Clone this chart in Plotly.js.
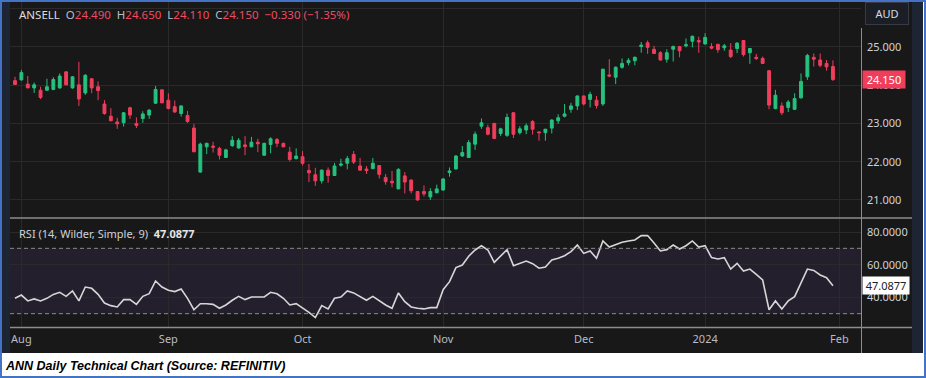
<!DOCTYPE html>
<html><head><meta charset="utf-8">
<script src="https://cdn.plot.ly/plotly-3.0.1.min.js"></script>
<style>html,body{margin:0;padding:0;background:#fff;}#chart{width:926px;height:378px;}</style>
</head><body><div id="chart"></div>
<script>
const dates = ['2023-07-31',
'2023-08-01','2023-08-02','2023-08-03','2023-08-04','2023-08-07','2023-08-08','2023-08-09','2023-08-10','2023-08-11','2023-08-14','2023-08-15','2023-08-16','2023-08-17','2023-08-18','2023-08-21','2023-08-22','2023-08-23','2023-08-24','2023-08-25','2023-08-28','2023-08-29','2023-08-30','2023-08-31',
'2023-09-01','2023-09-04','2023-09-05','2023-09-06','2023-09-07','2023-09-08','2023-09-11','2023-09-12','2023-09-13','2023-09-14','2023-09-15','2023-09-18','2023-09-19','2023-09-20','2023-09-21','2023-09-22','2023-09-25','2023-09-26','2023-09-27','2023-09-28','2023-09-29',
'2023-10-02','2023-10-03','2023-10-04','2023-10-05','2023-10-06','2023-10-09','2023-10-10','2023-10-11','2023-10-12','2023-10-13','2023-10-16','2023-10-17','2023-10-18','2023-10-19','2023-10-20','2023-10-23','2023-10-24','2023-10-25','2023-10-26','2023-10-27','2023-10-30','2023-10-31',
'2023-11-01','2023-11-02','2023-11-03','2023-11-06','2023-11-07','2023-11-08','2023-11-09','2023-11-10','2023-11-13','2023-11-14','2023-11-15','2023-11-16','2023-11-17','2023-11-20','2023-11-21','2023-11-22','2023-11-23','2023-11-24','2023-11-27','2023-11-28','2023-11-29','2023-11-30',
'2023-12-01','2023-12-04','2023-12-05','2023-12-06','2023-12-07','2023-12-08','2023-12-11','2023-12-12','2023-12-13','2023-12-14','2023-12-15','2023-12-18','2023-12-19','2023-12-20','2023-12-21','2023-12-22','2023-12-27','2023-12-28','2023-12-29',
'2024-01-02','2024-01-03','2024-01-04','2024-01-05','2024-01-08','2024-01-09','2024-01-10','2024-01-11','2024-01-12','2024-01-15','2024-01-16','2024-01-17','2024-01-18','2024-01-19','2024-01-22','2024-01-23','2024-01-24','2024-01-25','2024-01-29','2024-01-30','2024-01-31'];

const open = [24.12,24.14,24.03,23.93,23.87,23.87,23.89,23.93,24.35,23.93,24.01,23.80,24.17,23.96,23.51,23.19,23.04,23.02,23.41,23.00,23.13,23.22,23.53,23.88,
23.61,23.44,23.26,23.21,22.88,21.73,22.39,22.41,22.35,22.11,22.42,22.36,22.44,22.39,22.51,22.17,22.45,22.58,22.48,22.25,22.08,
22.13,21.77,21.66,21.50,21.78,21.64,21.91,21.96,22.19,21.89,21.81,21.82,21.90,21.59,21.49,21.29,21.63,21.52,21.22,21.22,21.08,21.19,
21.26,21.72,21.81,22.15,22.11,22.46,22.93,22.89,23.00,22.74,22.69,23.28,22.76,22.83,23.05,22.78,22.76,22.88,23.07,23.19,23.37,23.46,
23.72,23.63,23.61,23.51,24.27,24.21,24.47,24.59,24.64,25.01,25.11,24.94,24.85,24.68,24.94,25.01,25.03,25.15,25.17,
25.08,25.01,25.07,24.98,24.92,24.96,25.17,24.85,24.73,24.70,24.38,23.39,23.46,23.42,23.37,23.67,24.22,24.73,24.66,24.57,24.49];
const high = [24.22,24.40,24.24,24.07,23.96,24.17,24.21,24.31,24.36,24.24,24.61,24.29,24.19,24.10,23.61,23.40,23.15,23.30,23.44,23.16,23.32,23.37,23.98,23.89,
23.79,23.60,23.47,23.33,22.99,22.50,22.50,22.52,22.39,22.34,22.67,22.62,22.67,22.65,22.60,22.50,22.64,22.62,22.50,22.39,22.35,
22.28,21.94,21.84,21.80,21.85,21.97,22.08,22.15,22.28,22.10,21.89,22.10,21.91,21.68,21.76,21.83,21.73,21.54,21.22,21.38,21.31,21.40,
21.57,21.85,22.17,22.41,22.57,22.79,23.13,22.97,23.02,22.89,23.26,23.30,22.93,23.00,23.09,22.78,22.86,23.11,23.24,23.51,23.54,23.73,
23.73,23.83,23.72,24.43,24.68,24.49,24.70,24.71,24.75,25.13,25.17,25.03,24.89,24.94,25.04,25.03,25.22,25.30,25.27,
25.36,25.10,25.08,25.08,25.10,25.13,25.18,24.97,24.82,24.75,24.40,23.88,23.55,23.61,23.79,24.31,24.82,24.83,24.83,24.66,24.65];
const low = [24.01,24.12,23.93,23.80,23.64,23.86,23.87,23.91,24.00,23.91,23.46,23.75,23.79,23.61,23.23,23.06,22.86,22.92,23.12,22.88,23.02,23.12,23.51,23.53,
23.37,23.28,23.18,23.02,22.25,21.71,22.20,22.24,22.06,22.10,22.39,22.34,22.17,22.38,22.25,22.15,22.22,22.38,22.38,22.01,22.06,
21.90,21.47,21.37,21.43,21.45,21.63,21.87,21.80,21.94,21.77,21.68,21.80,21.56,21.40,21.33,21.28,21.17,21.17,20.98,21.09,21.00,21.17,
21.24,21.61,21.80,22.13,22.10,22.31,22.86,22.69,22.59,22.67,22.65,22.62,22.71,22.72,22.71,22.55,22.55,22.74,22.99,23.16,23.28,23.35,
23.47,23.42,23.39,23.46,24.21,24.03,24.43,24.52,24.52,24.85,24.82,24.82,24.64,24.59,24.62,24.73,24.99,24.99,24.85,
25.06,24.94,24.85,24.90,24.71,24.84,24.75,24.56,24.66,24.56,23.37,23.37,23.22,23.30,23.35,23.65,24.14,24.49,24.47,24.38,24.11];
const close = [24.02,24.33,23.93,24.01,23.68,23.96,24.15,24.24,24.01,24.22,23.64,24.26,23.93,23.86,23.26,23.07,22.99,23.28,23.22,22.95,23.25,23.35,23.89,23.54,
23.39,23.30,23.46,23.05,22.26,22.46,22.48,22.38,22.17,22.31,22.56,22.56,22.40,22.51,22.47,22.48,22.60,22.48,22.39,22.06,22.15,
21.96,21.71,21.50,21.78,21.64,21.89,21.94,22.08,21.99,21.78,21.77,21.96,21.67,21.48,21.45,21.80,21.47,21.24,21.00,21.16,21.22,21.29,
21.55,21.76,22.15,22.24,22.50,22.72,23.02,22.72,22.61,22.86,23.16,22.72,22.86,22.94,22.85,22.76,22.85,23.09,23.15,23.25,23.46,23.72,
23.51,23.76,23.47,24.42,24.24,24.47,24.57,24.65,24.73,25.05,24.99,24.83,24.66,24.85,25.01,24.90,25.06,25.28,25.13,
25.25,24.97,24.93,25.03,24.75,25.10,24.80,24.96,24.70,24.57,23.48,23.74,23.28,23.56,23.65,24.10,24.78,24.68,24.52,24.48,24.15];
const rsi = [39.4,41.4,37.8,39.0,37.8,39.4,41.8,43.1,40.6,43.9,37.8,46.3,45.5,41.8,36.5,34.9,34.1,38.6,38.6,35.7,40.6,42.2,50.0,46.3,
44.3,43.5,45.1,39.4,32.4,36.1,36.1,35.7,33.3,35.3,38.2,40.6,38.6,40.2,40.2,40.2,43.1,42.2,39.4,35.3,36.1,
33.7,30.8,27.6,34.9,32.9,39.4,40.2,43.9,42.7,40.6,38.2,40.6,37.8,35.3,33.3,42.7,37.3,34.1,33.3,32.9,33.7,33.7,
44.7,49.6,58.2,59.8,65.2,69.0,71.6,69.0,61.4,65.5,69.2,59.4,60.6,62.2,60.6,57.8,58.6,62.9,63.9,65.5,68.0,72.0,
66.9,68.4,63.9,74.5,70.8,72.4,73.7,74.5,75.1,77.8,77.8,73.3,68.4,69.2,72.0,69.6,71.6,74.5,70.8,
71.6,64.3,63.5,64.3,57.3,60.8,56.1,57.3,54.1,50.6,32.4,37.8,32.9,37.8,40.4,49.0,57.3,56.5,53.7,52.0,47.0877];
const monthLabels = ['Aug','Sep','Oct','Nov','Dec','2024','Feb'];
const priceTicks = [21,22,23,24,25,26];
const priceTickText = ['21.000','22.000','23.000','24.000','25.000',''];
const rsiTicks = [40,60,80];
const rsiTickText = ['40.0000','60.0000','80.0000'];
const rsiLevels = [30,70];

const W = 926, H = 378;
const px = v => v / W;
const py = v => 1 - v / H;
const xi = dates.map((d, i) => i);
const monthTicks = [];
for (let i = 1; i < dates.length; i++) {
  if (dates[i].slice(0, 7) !== dates[i - 1].slice(0, 7)) monthTicks.push(i);
}
monthTicks.push(dates.length);

const UP = '#26c17e', DOWN = '#ef3e5b';
const GRID = '#2a2a2a', SEP = '#8d8d8d', TXT = '#cfd2da';
const FONT = 'Noto Sans, Open Sans, sans-serif';
const last = close.length - 1;
const chg = close[last] - close[last - 1];

const traces = [
  {type: 'candlestick', x: xi, open: open, high: high, low: low, close: close,
   xaxis: 'x', yaxis: 'y', whiskerwidth: 0,
   increasing: {line: {color: UP, width: 1}, fillcolor: UP},
   decreasing: {line: {color: DOWN, width: 1}, fillcolor: DOWN},
   hoverinfo: 'skip', showlegend: false},
  {type: 'scatter', mode: 'lines', x: xi, y: rsi, xaxis: 'x', yaxis: 'y2',
   line: {color: '#d6d6d6', width: 1.6}, hoverinfo: 'skip', showlegend: false}
];

const shapes = [
  {type: 'rect', xref: 'paper', yref: 'paper', x0: px(2), x1: px(923), y0: py(353), y1: py(2),
   fillcolor: '#1d2433', line: {width: 0}, layer: 'below'},
  {type: 'rect', xref: 'paper', yref: 'paper', x0: px(10), x1: px(912), y0: py(353), y1: py(2),
   fillcolor: '#181818', line: {width: 0}, layer: 'below'},
  {type: 'rect', xref: 'x', yref: 'y2', x0: -0.782, x1: 132.39, y0: rsiLevels[0], y1: rsiLevels[1],
   fillcolor: '#241f2d', line: {width: 0}, layer: 'below'},
  {type: 'line', xref: 'x', yref: 'y2', x0: -0.782, x1: 132.39, y0: rsiLevels[0], y1: rsiLevels[0],
   line: {color: '#8a8a8a', width: 1, dash: '4px,3px'}},
  {type: 'line', xref: 'x', yref: 'y2', x0: -0.782, x1: 132.39, y0: rsiLevels[1], y1: rsiLevels[1],
   line: {color: '#8a8a8a', width: 1, dash: '4px,3px'}},
  {type: 'line', xref: 'paper', yref: 'paper', x0: px(10), x1: px(912), y0: py(218), y1: py(218),
   line: {color: SEP, width: 1.5}},
  {type: 'line', xref: 'paper', yref: 'paper', x0: px(10), x1: px(912), y0: py(327.5), y1: py(327.5),
   line: {color: SEP, width: 1.5}},
  {type: 'line', xref: 'paper', yref: 'paper', x0: px(861.5), x1: px(861.5), y0: py(353), y1: py(28),
   line: {color: SEP, width: 1}},
  {type: 'rect', xref: 'paper', yref: 'paper', x0: px(1), x1: px(925), y0: py(377), y1: py(1),
   line: {color: '#4472c4', width: 2}, fillcolor: 'rgba(0,0,0,0)'}
];

const sp = (c, t) => '<span style="color:' + c + '">' + t + '</span>';
const R = '#ef4a63', G = '#b8bcc6';
const header = sp('#dcdcdc', 'ANSELL') + '  ' + sp(G, 'O') + sp(R, open[last].toFixed(3)) + '  ' +
  sp(G, 'H') + sp(R, high[last].toFixed(3)) + '  ' + sp(G, 'L') + sp(R, low[last].toFixed(3)) + '  ' +
  sp(G, 'C') + sp(R, close[last].toFixed(3)) + '  ' +
  sp(R, (chg < 0 ? '\u22120' : '+0') + Math.abs(chg).toFixed(3).slice(1) + ' (' + (chg < 0 ? '\u2212' : '+') + Math.abs(chg / close[last - 1] * 100).toFixed(2) + '%)');

const annotations = [
  {xref: 'paper', yref: 'paper', x: px(17), y: py(15), xanchor: 'left', yanchor: 'middle', showarrow: false,
   text: header, font: {family: FONT, size: 11.5, color: '#dcdcdc'}},
  {xref: 'paper', yref: 'paper', x: px(887), y: py(14), xanchor: 'center', yanchor: 'middle', showarrow: false,
   text: 'AUD', font: {family: FONT, size: 11, color: '#d8dbe2'}, bgcolor: '#1b1e25', bordercolor: '#363b46',
   borderwidth: 1, borderpad: 3, width: 36},
  {xref: 'paper', yref: 'paper', x: px(17), y: py(233), xanchor: 'left', yanchor: 'middle', showarrow: false,
   text: sp('#cfd2da', 'RSI (14, Wilder, Simple, 9)') + '  <b>' + rsi[last].toFixed(4) + '</b>',
   font: {family: FONT, size: 11, color: '#e6e6e6'}},
  {xref: 'paper', yref: 'y', x: px(862), y: close[last], xanchor: 'left', yanchor: 'middle', showarrow: false,
   text: close[last].toFixed(3), font: {family: FONT, size: 11, color: '#ffffff'}, bgcolor: DOWN,
   borderpad: 1, width: 40},
  {xref: 'paper', yref: 'y2', x: px(862), y: rsi[last], xanchor: 'left', yanchor: 'middle', showarrow: false,
   text: rsi[last].toFixed(4), font: {family: FONT, size: 11, color: '#202020'}, bgcolor: '#ffffff',
   borderpad: 1, width: 44},
  {xref: 'paper', yref: 'paper', x: px(3), y: py(366), xanchor: 'left', yanchor: 'middle', showarrow: false,
   text: 'ANN Daily Technical Chart (Source: REFINITIV)',
   font: {family: 'Liberation Sans, Arial, sans-serif', size: 12.5, color: '#000000', weight: 'bold', style: 'italic'}}
];

const layout = {
  width: W, height: H,
  margin: {l: 0, r: 0, t: 0, b: 0, pad: 0},
  paper_bgcolor: '#ffffff', plot_bgcolor: 'rgba(0,0,0,0)',
  showlegend: false, hovermode: false, boxgap: 0.36,
  xaxis: {domain: [px(10), px(861)], range: [-0.782, 132.39], anchor: 'y2',
    rangeslider: {visible: false}, tickmode: 'array', tickvals: monthTicks, ticktext: monthLabels,
    showgrid: true, gridcolor: GRID, gridwidth: 1, zeroline: false, showline: false, ticks: '',
    tickfont: {family: FONT, size: 11, color: '#b8bcc6'}, ticklabelstandoff: 4, fixedrange: true},
  yaxis: {domain: [py(218), py(2)], range: [20.529, 26.176], side: 'right', anchor: 'x',
    tickmode: 'array', tickvals: priceTicks, ticktext: priceTickText,
    showgrid: true, gridcolor: GRID, zeroline: false, showline: false, ticks: '',
    tickfont: {family: FONT, size: 11, color: TXT}, ticklabelstandoff: 5, fixedrange: true},
  yaxis2: {domain: [py(327), py(219)], range: [21.83, 87.96], side: 'right', anchor: 'x',
    tickmode: 'array', tickvals: rsiTicks, ticktext: rsiTickText,
    showgrid: true, gridcolor: GRID, zeroline: false, showline: false, ticks: '',
    tickfont: {family: FONT, size: 11, color: TXT}, ticklabelstandoff: 5, fixedrange: true},
  shapes: shapes, annotations: annotations
};

Plotly.newPlot('chart', traces, layout, {displayModeBar: false, staticPlot: true});
</script></body></html>
